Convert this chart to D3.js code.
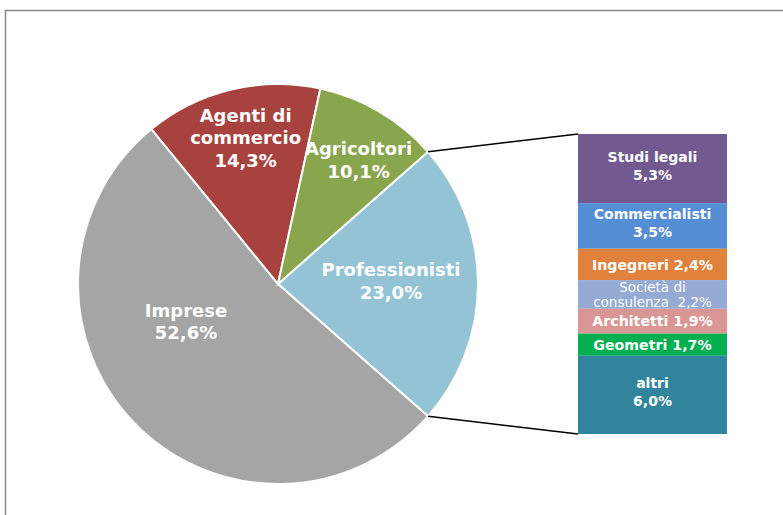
<!DOCTYPE html>
<html><head><meta charset="utf-8">
<script src="https://cdn.jsdelivr.net/npm/d3@7"></script>
<style>html,body{margin:0;padding:0;background:#fff;}svg{display:block;}</style>
</head><body>
<svg id="chart" width="783" height="515"></svg>
<script>
// ---- data ----
const pieCategories = ["Professionisti", "Imprese", "Agenti di commercio", "Agricoltori"];
const pieValues = [23.0, 52.6, 14.3, 10.1];
const pieLabelLines = [["Professionisti"], ["Imprese"], ["Agenti di", "commercio"], ["Agricoltori"]];
const pieValueLabels = ["23,0%", "52,6%", "14,3%", "10,1%"];

const barCategories = ["Studi legali", "Commercialisti", "Ingegneri", "Società di consulenza", "Architetti", "Geometri", "altri"];
const barValues = [5.3, 3.5, 2.4, 2.2, 1.9, 1.7, 6.0];
const barValueLabels = ["5,3%", "3,5%", "2,4%", "2,2%", "1,9%", "1,7%", "6,0%"];

// ---- styles / layout ----
const pieColors = ["#93c3d5", "#a5a5a5", "#a8423f", "#89a54e"];
const barColors = ["#705a90", "#558ed5", "#e0823c", "#95abd4", "#d99694", "#00b050", "#31849b"];
const font = "'DejaVu Sans', Verdana, sans-serif";

const svg = d3.select("#chart");
svg.append("rect").attr("x", 5.5).attr("y", 10.5).attr("width", 900).attr("height", 700)
  .attr("fill", "#fff").attr("stroke", "#8c8c8c").attr("stroke-width", 1.6);

const cx = 278, cy = 284, R = 200;
const g = svg.append("g").attr("transform", `translate(${cx},${cy})`);

const profShare = pieValues[0] / d3.sum(pieValues);
const start = Math.PI / 2 - profShare * Math.PI;
const pie = d3.pie().sort(null).value(d => d).startAngle(start).endAngle(start + 2 * Math.PI);
const arcs = pie(pieValues);
const arc = d3.arc().innerRadius(0).outerRadius(R);

g.selectAll("path.slice").data(arcs).enter().append("path")
  .attr("class", "slice").attr("d", arc)
  .attr("fill", (d, i) => pieColors[i]).attr("stroke", "#fff").attr("stroke-width", 2);

// label placement: [radius fraction, angle in degrees]
const labelPlace = [[0.565, 88.5], [0.497, 247.8], [0.748, 347.5], [0.74, 33]];
const lh = 22.5;
arcs.forEach((a, i) => {
  const [f, deg] = labelPlace[i];
  const ang = deg * Math.PI / 180;
  const x = Math.sin(ang) * R * f, y = -Math.cos(ang) * R * f;
  const lines = pieLabelLines[i].concat([pieValueLabels[i]]);
  const t = g.append("text").attr("text-anchor", "middle").attr("fill", "#fff")
    .attr("font-family", font).attr("font-weight", "bold").attr("font-size", 18);
  const y0 = y - (lines.length - 1) * lh / 2;
  lines.forEach((ln, k) => {
    t.append("tspan").attr("x", x).attr("y", y0 + k * lh).attr("dy", "0.36em").text(ln);
  });
});

// ---- stacked bar ----
const barX = 578, barW = 149, barTop = 134, barBottom = 434;
const yScale = d3.scaleLinear().domain([0, d3.sum(barValues)]).range([barTop, barBottom]);
let cum = 0;
const stack = barValues.map((v, i) => { const s = { i, y0: cum, y1: cum + v }; cum += v; return s; });

svg.selectAll("rect.seg").data(stack).enter().append("rect")
  .attr("class", "seg").attr("x", barX).attr("width", barW)
  .attr("y", d => yScale(d.y0)).attr("height", d => yScale(d.y1) - yScale(d.y0))
  .attr("fill", d => barColors[d.i]);

// connector lines from Professionisti slice edges to bar
const pa = arcs[0];
const p1 = [cx + Math.sin(pa.startAngle) * R, cy - Math.cos(pa.startAngle) * R];
const p2 = [cx + Math.sin(pa.endAngle) * R, cy - Math.cos(pa.endAngle) * R];
svg.append("line").attr("x1", p1[0]).attr("y1", p1[1]).attr("x2", barX).attr("y2", yScale(0))
  .attr("stroke", "#000").attr("stroke-width", 1.5);
svg.append("line").attr("x1", p2[0]).attr("y1", p2[1]).attr("x2", barX).attr("y2", yScale(d3.sum(barValues)))
  .attr("stroke", "#000").attr("stroke-width", 1.5);

// bar labels
const midX = barX + barW / 2;
const blh = 18;
stack.forEach(d => {
  const name = barCategories[d.i], val = barValueLabels[d.i];
  const ym = (yScale(d.y0) + yScale(d.y1)) / 2;
  const t = svg.append("text").attr("text-anchor", "middle").attr("fill", "#fff")
    .attr("font-family", font);
  if (name === "Società di consulenza") {
    t.attr("font-size", 13.5).attr("font-weight", "normal");
    t.append("tspan").attr("x", midX).attr("y", ym - 7.5).attr("dy", "0.36em").text("Società di");
    t.append("tspan").attr("x", midX).attr("y", ym + 7.5).attr("dy", "0.36em")
      .attr("xml:space", "preserve").style("white-space", "pre").text("consulenza  " + val);
  } else if (d.y1 - d.y0 < 3) {
    t.attr("font-size", 14.2).attr("font-weight", "bold");
    t.append("tspan").attr("x", midX).attr("y", ym).attr("dy", "0.36em").text(name + " " + val);
  } else {
    t.attr("font-size", 14).attr("font-weight", "bold");
    const off = -3;
    t.append("tspan").attr("x", midX).attr("y", ym + off - blh / 2).attr("dy", "0.36em").text(name);
    t.append("tspan").attr("x", midX).attr("y", ym + off + blh / 2).attr("dy", "0.36em").text(val);
  }
});
</script>
</body></html>
